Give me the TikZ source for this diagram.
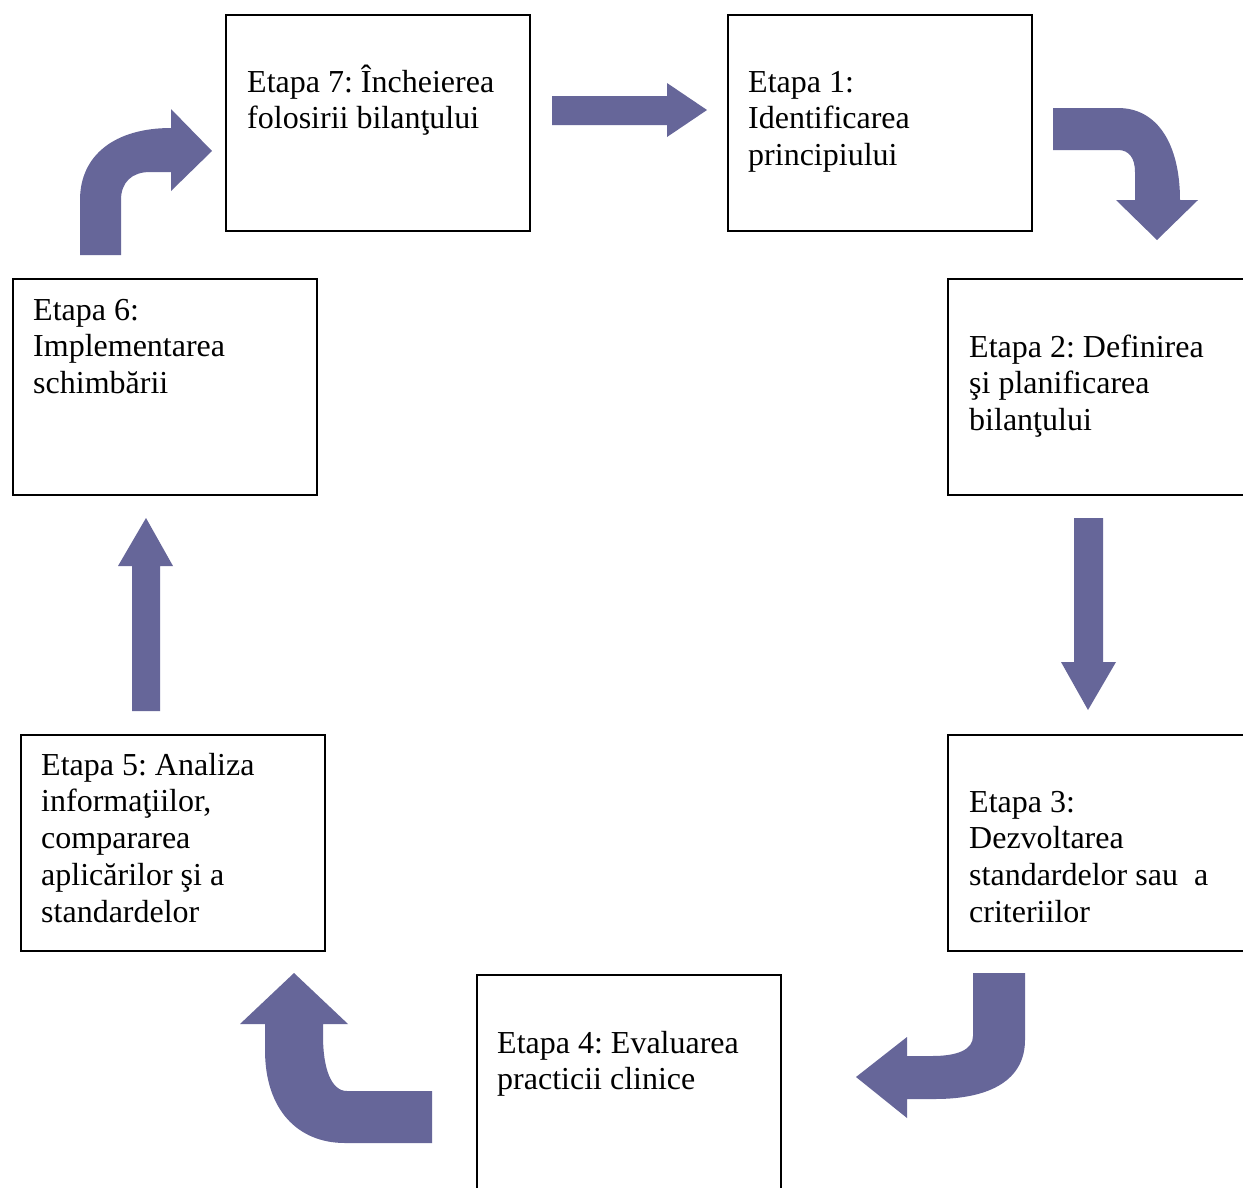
\documentclass[tikz,border=0pt]{standalone}
\usepackage{fontspec}
\setmainfont{Liberation Serif}
\definecolor{arrowc}{RGB}{102,102,153}
\tikzset{
  stagebox/.style={draw=black, line width=1.8pt, rectangle, inner sep=0pt,
    minimum width=304pt, minimum height=216pt, anchor=north west},
  stagetext/.style={anchor=base west, inner sep=0pt,
    font=\fontsize{32}{36.8}\selectfont},
  blockarrow/.style={fill=arrowc, draw=none}
}
\newcommand{\stlines}[1]{\vtop{\frenchspacing\baselineskip=36.8pt\lineskiplimit=-20pt #1}}
\begin{document}
\frenchspacing
\begin{tikzpicture}[x=1pt,y=-1pt]
\useasboundingbox (0,0) rectangle (1243,1187);
\clip (0,0) rectangle (1243,1187);
\fill[white] (0,0) rectangle (1243,1187);

% boxes
\node[stagebox] (b7) at (225,14) {};
\node[stagebox] (b1) at (727,14) {};
\node[stagebox] (b2) at (947,278) {};
\node[stagebox] (b3) at (947,734) {};
\node[stagebox] (b4) at (476,974) {};
\node[stagebox] (b5) at (20,734) {};
\node[stagebox] (b6) at (12,278) {};

% texts
\node[stagetext] (t7) at (247,92) {\stlines{\hbox{Etapa 7: Încheierea}\hbox{folosirii bilanţului}}};
\node[stagetext] (t1) at (748,92) {\stlines{\hbox{Etapa 1:}\hbox{Identificarea}\hbox{principiului}}};
\node[stagetext] (t2) at (969,357) {\stlines{\hbox{Etapa 2: Definirea}\hbox{şi planificarea}\hbox{bilanţului}}};
\node[stagetext] (t3) at (969,812) {\stlines{\hbox{Etapa 3:}\hbox{Dezvoltarea}\hbox{standardelor sau\ \ a}\hbox{criteriilor}}};
\node[stagetext] (t4) at (497,1053) {\stlines{\hbox{Etapa 4: Evaluarea}\hbox{practicii clinice}}};
\node[stagetext] (t5) at (41,775) {\stlines{\hbox{Etapa 5: Analiza}\hbox{informaţiilor,}\hbox{compararea}\hbox{aplicărilor şi a}\hbox{standardelor}}};
\node[stagetext] (t6) at (33,320) {\stlines{\hbox{Etapa 6:}\hbox{Implementarea}\hbox{schimbării}}};

% arrow 7 -> 1 (straight right)
\fill[blockarrow] (552,96) -- (667,96) -- (667,83) -- (707,110) -- (667,137) -- (667,125) -- (552,125) -- cycle;

% arrow 1 -> 2 (bent down)
\fill[blockarrow] (1053,108) -- (1118,108)
  .. controls (1158,108) and (1180,145) .. (1180,200)
  -- (1198,200) -- (1157,240) -- (1116,200) -- (1135,200) -- (1135,172)
  .. controls (1135,158) and (1129,150) .. (1118,150)
  -- (1053,150) -- cycle;

% arrow 2 -> 3 (straight down)
\fill[blockarrow] (1074,518) -- (1103,518) -- (1103,662) -- (1116,662) -- (1088,710) -- (1061,662) -- (1074,662) -- cycle;

% arrow 3 -> 4 (bent left)
\fill[blockarrow] (973,973) -- (1025,973) -- (1025,1040)
  .. controls (1025,1080) and (990,1099) .. (935,1099)
  -- (907,1099) -- (907,1118) -- (856,1077) -- (907,1037) -- (907,1056) -- (932,1056)
  .. controls (957,1056) and (973,1050) .. (973,1036)
  -- cycle;

% arrow 4 -> 5 (bent up)
\fill[blockarrow] (432,1091) -- (347,1091)
  .. controls (331,1091) and (323,1068) .. (323,1036)
  -- (323,1024) -- (348,1024) -- (294,973) -- (240,1024) -- (265,1024) -- (265,1050)
  .. controls (265,1110) and (298,1143) .. (345,1143)
  -- (432,1143) -- cycle;

% arrow 5 -> 6 (straight up)
\fill[blockarrow] (132,711) -- (160,711) -- (160,566) -- (173,566) -- (146,518) -- (118,566) -- (132,566) -- cycle;

% arrow 6 -> 7 (bent right)
\fill[blockarrow] (80,255) -- (80,200)
  .. controls (80,155) and (115,128) .. (171,128)
  -- (171,109) -- (212,151) -- (171,191) -- (171,172) -- (150,172)
  .. controls (132,172) and (121,182) .. (121,200)
  -- (121,255) -- cycle;
\end{tikzpicture}
\end{document}
